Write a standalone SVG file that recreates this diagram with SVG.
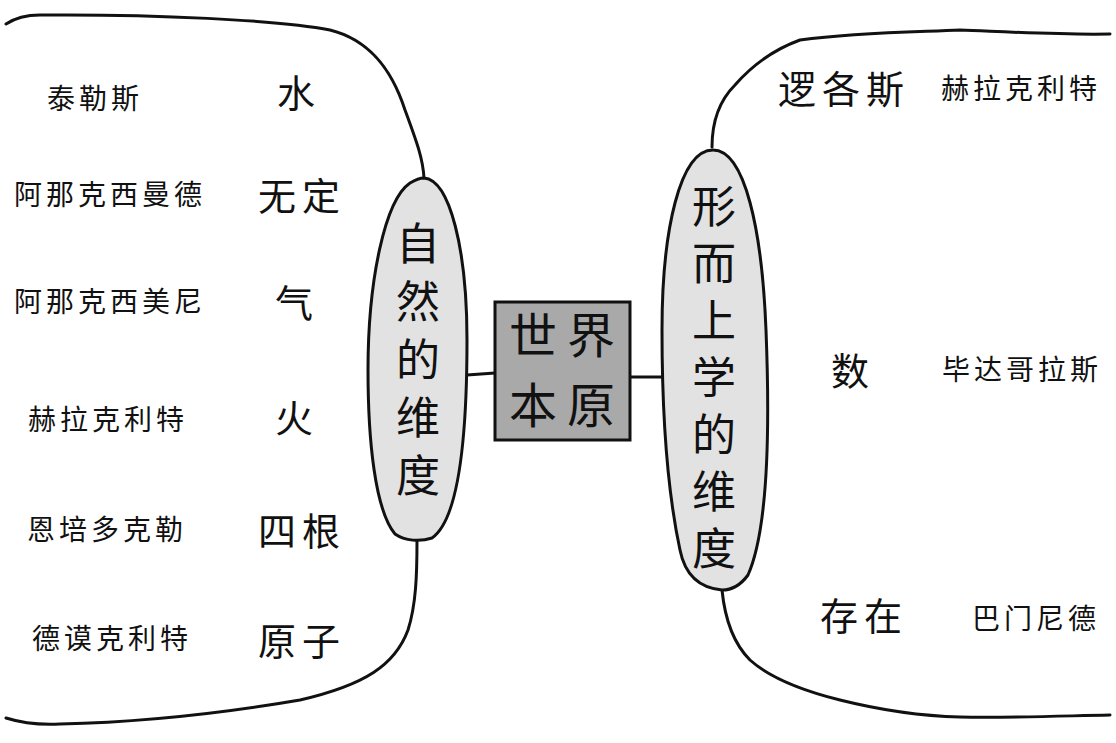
<svg xmlns="http://www.w3.org/2000/svg" width="1116" height="743" viewBox="0 0 1116 743">
<style>
.ln{fill:none;stroke:#111;stroke-width:3;stroke-linecap:round;stroke-linejoin:round}
.ell{fill:#e2e2e2;stroke:#111;stroke-width:3}
.box{fill:#a9a9a9;stroke:#111;stroke-width:3}
text{font-family:"Noto Sans CJK SC","Noto Sans CJK TC",sans-serif;fill:#111;text-anchor:middle;dominant-baseline:central}
.s{font-size:28px;letter-spacing:4px}
.b{font-size:38px;letter-spacing:6px}
.v{font-size:44px;writing-mode:vertical-rl;text-anchor:start}
.c{font-size:48px;letter-spacing:10px}
</style>
<rect width="1116" height="743" fill="#fff"/>
<g id="connectors">
<path class="ln" d="M6 24 C15 18 25 15 40 15 C150 14 280 20 330 30 C370 40 392 70 405 110 C418 145 423 160 424 178"/>
<path class="ln" d="M417 540 C417 575 416 605 408 630 C395 665 365 685 300 700 C230 712 150 722 60 724 C40 725 25 724 6 718"/>
<path class="ln" d="M467 375 L495 373"/>
<path class="ln" d="M630 377 L662 377"/>
<path class="ln" d="M712 147 C712 120 720 100 735 85 C755 62 778 48 800 40 C860 32 920 32 960 30 C1010 32 1060 35 1110 34"/>
<path class="ln" d="M722 590 C725 620 735 645 750 660 C770 678 800 690 840 700 C880 710 920 716 960 717 C1010 718 1060 716 1110 715"/>
</g>
<g id="center">
<rect class="box" x="495" y="302" width="135" height="138"/>
<text class="c" x="567" y="332">世界</text>
<text class="c" x="567" y="402">本原</text>
</g>
<g id="nature">
<path class="ell" d="M424 178 C450 180 467 250 467 340 C467 440 458 520 432 538 C420 542 405 541 395 534 C375 510 368 440 368 370 C368 280 385 200 410 183 C415 180 420 178 424 178 Z"/>
<text class="v" x="418" y="221" style="letter-spacing:14px">自然的维度</text>
</g>
<g id="meta">
<path class="ell" d="M713 150 C745 150 762 230 766 330 C770 430 768 530 748 575 C740 586 730 590 722 590 C700 588 685 575 680 550 C665 480 662 400 662 330 C662 230 680 150 713 150 Z"/>
<text class="v" x="714" y="184" style="letter-spacing:13px">形而上学的维度</text>
</g>
<g id="left-items">
<text class="s" x="95" y="97">泰勒斯</text>
<text class="b" x="299" y="90">水</text>
<text class="s" x="110" y="193">阿那克西曼德</text>
<text class="b" x="302" y="193">无定</text>
<text class="s" x="110" y="300">阿那克西美尼</text>
<text class="b" x="297" y="300">气</text>
<text class="s" x="108" y="418">赫拉克利特</text>
<text class="b" x="297" y="415">火</text>
<text class="s" x="107" y="528">恩培多克勒</text>
<text class="b" x="302" y="528">四根</text>
<text class="s" x="112" y="637">德谟克利特</text>
<text class="b" x="302" y="638">原子</text>
</g>
<g id="right-items">
<text class="b" x="844" y="86">逻各斯</text>
<text class="s" x="1021" y="87">赫拉克利特</text>
<text class="b" x="853" y="368">数</text>
<text class="s" x="1022" y="368">毕达哥拉斯</text>
<text class="b" x="864" y="613">存在</text>
<text class="s" x="1036" y="617">巴门尼德</text>
</g>
</svg>
